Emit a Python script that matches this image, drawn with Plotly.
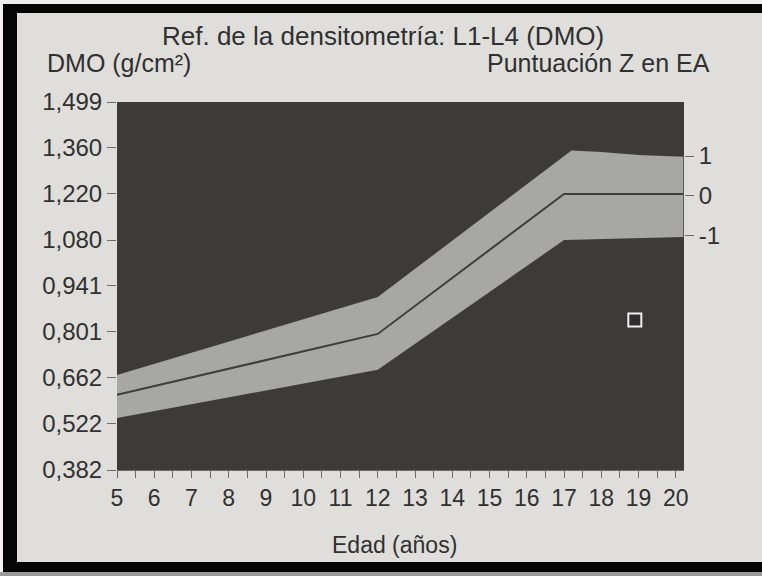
import plotly.graph_objects as go

# ---- data ----
age_mean = [5, 12, 17, 20.2]
dmo_mean = [0.610, 0.795, 1.220, 1.220]

age_upper = [5, 12, 17.2, 18, 19, 20.2]
dmo_upper = [0.670, 0.907, 1.352, 1.347, 1.338, 1.333]

age_lower = [5, 12, 17, 18, 20.2]
dmo_lower = [0.540, 0.686, 1.080, 1.084, 1.089]

patient_age = [18.9]
patient_dmo = [0.837]

y_tickvals = [0.382, 0.522, 0.662, 0.801, 0.941, 1.080, 1.220, 1.360, 1.499]
y_ticktext = ["0,382", "0,522", "0,662", "0,801", "0,941", "1,080", "1,220", "1,360", "1,499"]
x_tickvals = list(range(5, 21))
z_tickvals = [-1, 0, 1]
z_ticktext = ["-1", "0", "1"]

# ---- geometry helpers (plot area in pixels) ----
W, H = 762, 576
PL, PR, PT, PB = 117, 684, 102, 470


def px(x):
    return (x - PL) / (PR - PL)


def py(y):
    return (PB - y) / (PB - PT)


FONT = "Liberation Sans, Arial, sans-serif"
TXT = "#303030"
YMIN, YMAX = 0.382, 1.499
Z0, ZSD = 1.215, 0.12

fig = go.Figure()

band_x = age_upper + age_lower[::-1]
band_y = dmo_upper + dmo_lower[::-1]
fig.add_trace(go.Scatter(x=band_x, y=band_y, mode="lines", fill="toself",
                         fillcolor="#a7a7a4", line=dict(width=0, color="#a7a7a4"),
                         hoverinfo="skip", showlegend=False))
fig.add_trace(go.Scatter(x=age_mean, y=dmo_mean, mode="lines",
                         line=dict(color="#3e3e3c", width=2),
                         hoverinfo="skip", showlegend=False))
fig.add_trace(go.Scatter(x=patient_age, y=patient_dmo, mode="markers",
                         marker=dict(symbol="square", size=13, color="#2e2d2b",
                                     line=dict(color="#f0f0f0", width=2)),
                         hoverinfo="skip", showlegend=False))
# invisible trace to activate the right axis
fig.add_trace(go.Scatter(x=[5], y=[0], yaxis="y2", mode="markers",
                         marker=dict(opacity=0), hoverinfo="skip", showlegend=False))

frame = "#050505"
fig.update_layout(
    width=W, height=H,
    margin=dict(l=PL, r=W - PR, t=PT, b=H - PB),
    paper_bgcolor="#dfdedb",
    plot_bgcolor="#3c3b38",
    font=dict(family=FONT, color=TXT, size=24),
    hovermode=False,
    xaxis=dict(range=[5, 20.22], tickvals=x_tickvals, ticks="outside", ticklen=7,
               tickcolor="#6a6a6a", showgrid=False, zeroline=False, showline=True,
               linecolor="#6a6a6a", linewidth=1, tickfont=dict(size=23),
               minor=dict(ticks="outside", ticklen=7, dtick=0.5, tickcolor="#6a6a6a")),
    yaxis=dict(range=[YMIN, YMAX], tickvals=y_tickvals, ticktext=y_ticktext,
               ticks="outside", ticklen=9, tickcolor="#6a6a6a", showgrid=False,
               zeroline=False, showline=False, tickfont=dict(size=24)),
    yaxis2=dict(overlaying="y", side="right",
                range=[(YMIN - Z0) / ZSD, (YMAX - Z0) / ZSD],
                tickvals=z_tickvals, ticktext=z_ticktext, ticks="outside",
                ticklen=9, tickcolor="#6a6a6a", showgrid=False, zeroline=False,
                showline=False, tickfont=dict(size=24)),
    annotations=[
        dict(text="Ref. de la densitometría: L1-L4 (DMO)", x=px(383), y=py(36),
             xref="paper", yref="paper", showarrow=False, xanchor="center",
             yanchor="middle", font=dict(size=26)),
        dict(text="DMO (g/cm²)", x=px(45), y=py(63), xref="paper", yref="paper",
             showarrow=False, xanchor="left", yanchor="middle", font=dict(size=25)),
        dict(text="Puntuación Z en EA", x=px(712), y=py(63), xref="paper", yref="paper",
             showarrow=False, xanchor="right", yanchor="middle", font=dict(size=25)),
        dict(text="Edad (años)", x=px(394), y=py(545), xref="paper", yref="paper",
             showarrow=False, xanchor="center", yanchor="middle", font=dict(size=23)),
    ],
    shapes=[
        # black photo frame
        dict(type="rect", xref="paper", yref="paper", x0=px(3), x1=px(W),
             y0=py(4), y1=py(13), fillcolor=frame, line=dict(width=0), layer="above"),
        dict(type="rect", xref="paper", yref="paper", x0=px(0), x1=px(W),
             y0=py(0), y1=py(4), fillcolor="#eeeeee", line=dict(width=0), layer="above"),
        dict(type="rect", xref="paper", yref="paper", x0=px(3), x1=px(17),
             y0=py(4), y1=py(572), fillcolor=frame, line=dict(width=0), layer="above"),
        dict(type="rect", xref="paper", yref="paper", x0=px(3), x1=px(W),
             y0=py(562), y1=py(572), fillcolor=frame, line=dict(width=0), layer="above"),
        dict(type="rect", xref="paper", yref="paper", x0=px(0), x1=px(W),
             y0=py(572), y1=py(H), fillcolor="#9a9a9a", line=dict(width=0), layer="above"),
        dict(type="rect", xref="paper", yref="paper", x0=px(0), x1=px(3),
             y0=py(4), y1=py(572), fillcolor="#f4eef0", line=dict(width=0), layer="above"),
    ],
)

fig.write_html("out.html", config={"displayModeBar": False},
               post_script="document.body.style.margin='0';document.body.style.overflow='hidden';")
